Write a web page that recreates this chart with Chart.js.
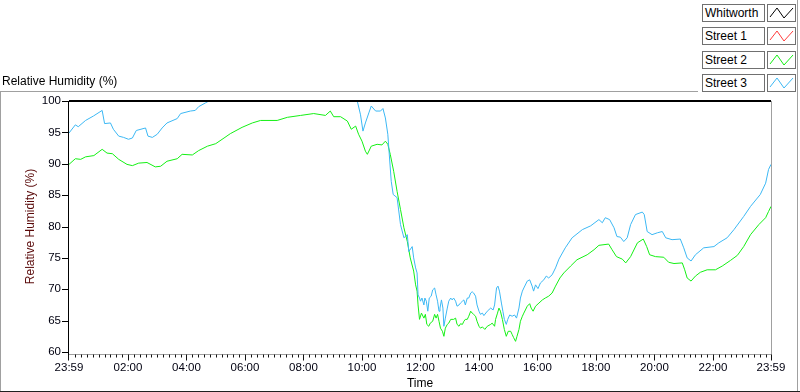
<!DOCTYPE html>
<html>
<head>
<meta charset="utf-8">
<script src="https://cdn.jsdelivr.net/npm/chart.js@4.4.1/dist/chart.umd.min.js"></script>
<style>
  html, body { margin:0; padding:0; background:#fff; }
  #wrap { position:relative; width:800px; height:392px; overflow:hidden; font-family:"Liberation Sans", Arial, sans-serif; }
  #c { position:absolute; left:0; top:0; }
  .title { position:absolute; left:2px; top:74px; font-size:12px; color:#000; white-space:nowrap; }
  .lbl { position:absolute; left:702px; width:59px; height:16px; border:1px solid #707070; background:#fff;
         font-size:12px; line-height:16px; padding-left:2px; box-sizing:content-box; color:#000; white-space:nowrap; }
  .ico { position:absolute; left:767px; width:27px; height:16px; border:1px solid #707070; background:#fff; }
  .ico svg { position:absolute; left:0; top:0; }
</style>
</head>
<body>
<div id="wrap">
  <canvas id="c" width="800" height="392"></canvas>
  <div class="title">Relative Humidity (%)</div>
  <div id="legend"></div>
</div>
<script>
// ---- data (time in minutes after midnight; -1 = 23:59 of previous day) ----
const seriesNames = ['Whitworth', 'Street 1', 'Street 2', 'Street 3'];
const seriesColors = ['#000000', '#ff3c3c', '#14f014', '#3cb8f4'];

const whitworthTimes = [-1, 1439];
const whitworth = [100, 100];

const street1Times = [];
const street1 = [];

const street2Times = [-1,12,23,33,50,67,77,88,101,118,129,142,159,176,187,200,221,231,252,265,283,300,317,330,354,375,392,426,447,474,501,525,535,542,556,570,578,587,593,600,607,611,619,631,641,648,653,658,665,672,679,686,693,699,706,
  710,713,715,718,722,727,730,733,737,740,745,749,752,755,758,761,765,768,771,775,778,782,788,792,795,799,802,806,809,812,816,819,823,826,829,833,836,840,843,847,852,857,864,867,872,874,878,881,884,888,892,896,900,905,908,911,915,918,922,925,929,932,939,944,947,951,956,963,970,976,983,990,997,1006,
  1014,1028,1041,1062,1076,1086,1106,1113,1122,1134,1141,1151,1165,1177,1184,1190,1202,1219,1229,1240,1257,1262,1267,1275,1284,1294,1308,1325,1339,1356,1370,1383,1397,1414,1428,1434,1439];
const street2 = [89.9,90.8,90.7,91.1,91.3,92.3,91.7,91.6,90.7,89.9,89.7,90.1,90.2,89.5,89.6,90.4,90.8,91.5,91.4,92.1,92.8,93.2,94.1,94.8,95.8,96.5,96.9,96.9,97.4,97.7,98.0,97.7,98.4,97.5,97.5,96.8,95.5,96.0,94.7,93.6,92.0,91.5,92.8,93.1,93.0,93.6,93.1,91.5,88.8,85.6,82.7,79.8,77.6,75.0,72.9,
  70.7,69.7,67.5,65.2,66.2,65.4,66.0,64.4,64.1,64.6,64.9,66.0,65.4,66.0,64.9,63.8,63.3,62.5,63.8,64.4,64.6,65.2,65.2,65.4,64.4,64.1,64.5,64.4,64.9,65.2,65.2,65.7,66.5,66.2,66.0,65.7,64.9,64.1,63.8,64.0,63.6,64.1,64.4,64.6,64.1,65.2,66.2,67.0,66.5,65.2,63.6,62.5,63.3,63.3,62.8,62.3,61.7,62.5,63.6,64.9,65.7,66.2,67.3,67.7,67.0,66.5,67.3,67.8,68.3,68.6,68.9,69.4,70.5,71.8,
  72.6,73.7,74.7,75.5,76.3,77.0,77.2,76.3,75.2,74.8,74.2,75.2,77.4,78.0,76.8,75.5,75.2,75.1,74.3,74.1,74.2,73.1,71.8,71.3,72.1,72.7,73.1,73.1,73.7,74.6,75.4,76.8,78.7,80.3,81.4,82.4,83.2];

const street3Times = [-1,12,18,33,49,67,72,84,90,101,111,121,129,137,156,161,170,180,190,200,221,228,248,258,265,279,300,351,433,515,576,590,597,602,607,614,619,628,638,643,648,653,655,660,664,672,679,686,693,696,703,706,
  710,713,715,718,720,723,727,729,732,735,738,742,745,749,752,755,758,760,763,766,768,771,775,778,782,785,788,792,795,799,802,806,809,812,816,819,823,826,829,833,836,840,843,847,850,857,864,869,872,876,879,882,886,889,892,896,899,903,908,913,917,922,925,929,932,939,944,949,952,956,961,966,973,978,983,990,997,
  1004,1017,1031,1052,1069,1086,1093,1099,1108,1117,1123,1130,1137,1144,1151,1161,1175,1179,1185,1195,1206,1216,1223,1236,1253,1260,1267,1275,1284,1301,1322,1332,1349,1363,1383,1397,1417,1428,1434,1439];
const street3 = [94.9,96.2,95.9,96.9,97.6,98.5,96.4,96.5,95.5,94.4,94.2,93.9,94.1,95.3,95.7,94.4,94.2,94.7,95.7,96.5,97.2,98.0,98.4,98.5,99.1,99.7,100.6,101.5,102.0,101.8,101.0,100.1,97.8,95.2,96.5,98.1,99.2,98.4,98.4,98.8,97.3,94.7,92.5,87.2,85.1,84.6,80.3,78.2,78.7,76.0,76.8,75.0,
  73.4,72.6,69.1,68.6,68.1,68.6,67.5,68.6,68.1,66.5,68.6,68.9,69.9,70.2,69.1,68.1,66.5,67.0,68.3,67.0,64.1,65.4,67.0,68.1,68.6,68.3,68.6,68.1,67.3,67.5,67.8,68.1,68.3,67.5,68.6,68.6,69.4,69.6,69.4,68.9,67.5,66.5,66.0,66.2,65.8,66.5,67.0,66.7,67.5,70.2,70.5,69.7,67.8,66.5,65.2,64.4,65.2,65.9,65.7,65.9,65.4,67.0,68.6,69.7,70.2,71.3,71.5,70.5,69.7,70.7,70.1,71.0,71.5,72.1,71.8,72.3,73.4,
  74.8,76.6,78.2,79.5,80.1,81.1,80.6,81.4,81.1,79.8,78.4,78.3,77.6,78.2,80.3,81.9,82.3,81.9,79.2,78.7,79.0,79.2,78.2,77.9,78.0,76.6,75.0,74.5,75.5,76.6,76.8,77.4,78.2,79.5,81.6,83.2,85.1,86.9,89.1,89.9];

const xTickValues = [-1,120,240,360,480,600,720,840,960,1080,1200,1320,1439];
const xTickLabels = ['23:59','02:00','04:00','06:00','08:00','10:00','12:00','14:00','16:00','18:00','20:00','22:00','23:59'];
const yTickValues = [60,65,70,75,80,85,90,95,100];

// ---- build ----
function pts(ts, vs) { return ts.map((t, i) => ({x: t, y: vs[i]})); }
const allTimes = [whitworthTimes, street1Times, street2Times, street3Times];
const allVals = [whitworth, street1, street2, street3];
const orders = [-1, 2, 1, 0];

const tickFont = {family: '"Liberation Sans", Arial, sans-serif', size: 11.5};
const titleFont = {family: '"Liberation Sans", Arial, sans-serif', size: 12};

const framePlugin = {
  id: 'frame',
  afterDraw(chart) {
    const {ctx, chartArea: a, scales: {x, y}} = chart;
    const ln = (x1, y1, x2, y2) => { ctx.beginPath(); ctx.moveTo(x1, y1); ctx.lineTo(x2, y2); ctx.stroke(); };
    ctx.save();
    ctx.lineWidth = 1;
    ctx.strokeStyle = '#a0a0a0';
    ln(0, 91.5, 698, 91.5);
    ln(0.5, 91.5, 0.5, 392);
    ln(797.5, 0, 797.5, 392);
    ctx.strokeStyle = '#202020';
    ln(0, 391.5, 800, 391.5);
    const axY = Math.round(a.bottom) + 2.5;
    ctx.strokeStyle = '#a0a0a0';
    ln(Math.round(a.right) + 0.5, a.top, Math.round(a.right) + 0.5, axY);
    ln(a.left, axY, Math.round(a.right) + 1, axY);
    ctx.strokeStyle = '#000';
    ln(Math.round(a.left) - 0.5, a.top, Math.round(a.left) - 0.5, axY + 1);
    yTickValues.forEach(v => {
      const py = Math.round(y.getPixelForValue(v)) + 0.5;
      ln(a.left - 7, py, a.left - 1, py);
    });
    ctx.strokeStyle = '#101010';
    for (let m = 12; m < 1439; m += 12) {
      const px = Math.round(x.getPixelForValue(m)) + 0.5;
      const major = xTickValues.includes(m);
      ln(px, axY, px, axY + (major ? 6 : 3));
    }
    [xTickValues[0], xTickValues[xTickValues.length - 1]].forEach(v => {
      const px = Math.round(x.getPixelForValue(v)) + (v < 0 ? -0.5 : 0.5);
      ln(px, axY, px, axY + 6);
    });
    ctx.restore();
  }
};

new Chart(document.getElementById('c'), {
  type: 'line',
  data: {
    datasets: seriesNames.map((n, i) => ({
      label: n,
      data: pts(allTimes[i], allVals[i]),
      borderColor: seriesColors[i],
      backgroundColor: seriesColors[i],
      borderWidth: i === 0 ? 2 : 1,
      pointRadius: 0,
      tension: 0,
      fill: false,
      clip: i === 0 ? false : undefined,
      order: orders[i]
    }))
  },
  options: {
    responsive: false,
    animation: false,
    events: [],
    layout: {padding: {top: 101, right: 29, left: 0, bottom: 0}},
    plugins: {legend: {display: false}, tooltip: {enabled: false}, title: {display: false}},
    scales: {
      x: {
        type: 'linear', min: -1, max: 1439,
        afterBuildTicks: s => { s.ticks = xTickValues.map(v => ({value: v})); },
        afterFit: s => { s.height = 40; },
        grid: {display: false, drawTicks: false},
        border: {display: false},
        ticks: {
          autoSkip: false, maxRotation: 0, padding: 9, font: tickFont, color: '#000010',
          callback: v => { const i = xTickValues.indexOf(v); return i >= 0 ? xTickLabels[i] : ''; }
        },
        title: {display: true, text: 'Time', font: titleFont, color: '#000', padding: {top: 0, bottom: 1}}
      },
      y: {
        min: 60, max: 100,
        afterBuildTicks: s => { s.ticks = yTickValues.map(v => ({value: v})); },
        afterFit: s => { s.width = 69; },
        grid: {display: false, drawTicks: false},
        border: {display: false},
        ticks: {padding: 8, font: tickFont, color: '#000010'},
        title: {display: true, text: 'Relative Humidity (%)', font: titleFont, color: '#5a0a0a', padding: {top: 23, bottom: 0}}
      }
    }
  },
  plugins: [framePlugin]
});

// ---- legend ----
const legendTops = [4, 27, 51, 74];
const leg = document.getElementById('legend');
seriesNames.forEach((n, i) => {
  const l = document.createElement('div');
  l.className = 'lbl'; l.style.top = legendTops[i] + 'px'; l.textContent = n;
  const ic = document.createElement('div');
  ic.className = 'ico'; ic.style.top = legendTops[i] + 'px';
  ic.innerHTML = '<svg width="27" height="16"><polyline points="2,12 9,3 16,13 25,3" fill="none" stroke="' + seriesColors[i] + '" stroke-width="1"/></svg>';
  leg.appendChild(l); leg.appendChild(ic);
});
</script>
</body>
</html>
